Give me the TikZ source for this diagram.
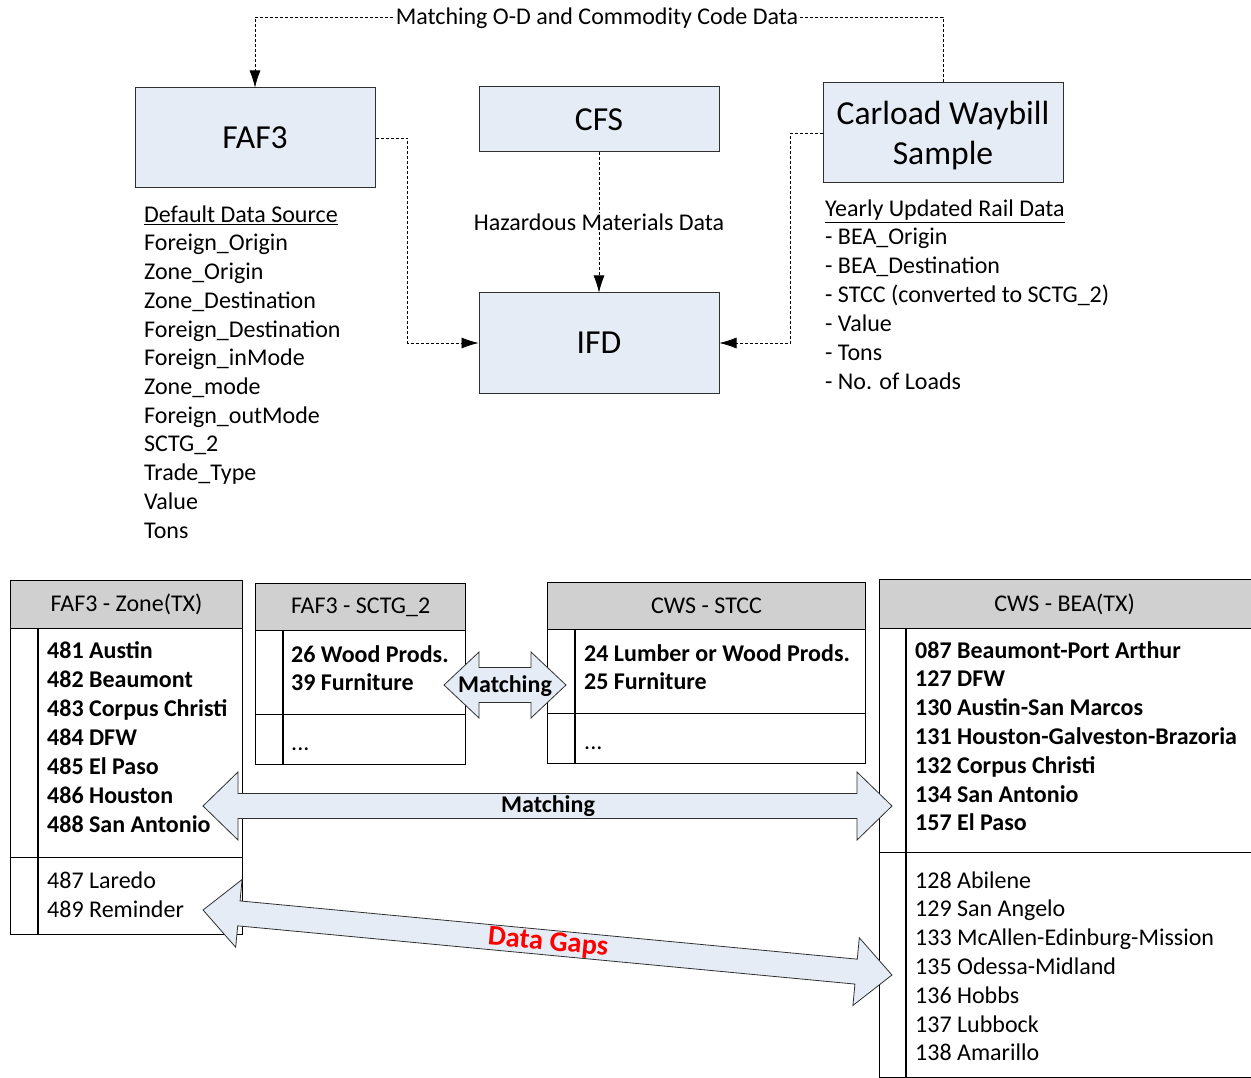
\documentclass[tikz,border=0pt]{standalone}
\usepackage{fontspec}
\setmainfont{Carlito}
\usetikzlibrary{arrows.meta}
\definecolor{boxblue}{HTML}{E6ECF6}
\definecolor{hdrgray}{HTML}{D0D0D0}
\definecolor{gapred}{HTML}{FF0000}
\definecolor{edge}{HTML}{303030}
\newcommand\txs{\fontsize{24pt}{28.7pt}\selectfont}
\newcommand\txl{\fontsize{33.6pt}{40pt}\selectfont}
\newcommand\blockdbl[7]{% cx, cy, angle, halflength, headlen, headhalf, shafthalf
 \begin{scope}[shift={(#1,#2)},rotate=#3]
 \draw[arrowbox] (-#4,0) -- ({-#4+#5},#6) -- ({-#4+#5},#7) -- ({#4-#5},#7) -- ({#4-#5},#6) -- (#4,0) -- ({#4-#5},-#6) -- ({#4-#5},-#7) -- ({-#4+#5},-#7) -- ({-#4+#5},-#6) -- cycle;
 \end{scope}}
\tikzset{
  bluebox/.style={draw=edge, line width=1pt, fill=boxblue, inner sep=0pt, align=center, font=\txl},
  dashline/.style={draw=black, line width=0.7pt, dash pattern=on 3pt off 2pt},
  tip/.style={-{Latex[length=17pt,width=11pt]}},
  lbl/.style={fill=white, inner sep=1pt, font=\txs},
  listtxt/.style={anchor=base west, inner sep=0pt, font=\txs},
  hdr/.style={draw=black, line width=1.2pt, fill=hdrgray, anchor=north west, inner sep=0pt, font=\txs},
  cell/.style={draw=black, line width=1.2pt, anchor=north west, inner sep=0pt},
  arrowbox/.style={draw=edge, line width=0.8pt, fill=boxblue, line join=miter},
}
\begin{document}
\begin{tikzpicture}[x=1pt,y=-1pt]
\useasboundingbox[fill=white] (0,0) rectangle (1251,1078);

% ---------- top boxes ----------
\node[bluebox, minimum width=240, minimum height=100] (faf) at (255,138) {FAF3};
\node[bluebox, minimum width=240, minimum height=65] (cfs) at (599,119.5) {CFS};
\node[bluebox, minimum width=240, minimum height=100] (cws) at (943,133) {};
\node[inner sep=0pt, align=center, font=\txl] (cwst) at (943,136) {Carload Waybill\\Sample};
\node[bluebox, minimum width=240, minimum height=100] (ifd) at (599,343) {IFD};

% ---------- dashed connectors ----------
\draw[dashline, tip] (cws.north) -- ++(0,-65) -| (faf.north);
\node[lbl] (odlbl) at (597,18) {Matching O-D and Commodity Code Data};
\draw[dashline, tip] (faf.east) -- ++(32,0) |- (ifd.west);
\draw[dashline, tip] (cws.west) -- ++(-32,0) |- (ifd.east);
\draw[dashline, tip] (cfs.south) -- (ifd.north);
\node[lbl] (hzlbl) at (599,222) {Hazardous Materials Data};

% ---------- left list ----------
\node[listtxt] (dds) at (144,223) {\underline{Default Data Source}};
\foreach \t [count=\i from 0] in {Foreign\_Origin, Zone\_Origin, Zone\_Destination, Foreign\_Destination, Foreign\_inMode, Zone\_mode, Foreign\_outMode, SCTG\_2, Trade\_Type, Value, Tons}
  \node[listtxt] (dl\i) at (144,{251+28.7*\i}) {\t};

% ---------- right list ----------
\node[listtxt] (yur) at (825,217) {\underline{Yearly Updated Rail Data}};
\foreach \t [count=\i from 0] in {- BEA\_Origin, - BEA\_Destination, - STCC (converted to SCTG\_2), - Value, - Tons, - No. of Loads}
  \node[listtxt] (rl\i) at (825,{245+28.8*\i}) {\t};

% ---------- table 1: FAF3 - Zone(TX) ----------
\node[hdr, minimum width=232, minimum height=48] (t1h) at (10,580) {FAF3 - Zone(TX)};
\node[cell, minimum width=232, minimum height=229] (t1a) at (10,628) {};
\node[cell, minimum width=232, minimum height=77] (t1b) at (10,857) {};
\draw[line width=1.2pt] (38,628) -- (38,934);
\foreach \t [count=\i from 0] in {481 Austin, 482 Beaumont, 483 Corpus Christi, 484 DFW, 485 El Paso, 486 Houston, 488 San Antonio}
  \node[listtxt, font=\txs\bfseries] (t1r\i) at (47,{658+29*\i}) {\t};
\node[listtxt] (t1s0) at (47,888) {487 Laredo};
\node[listtxt] (t1s1) at (47,917) {489 Reminder};

% ---------- table 2: FAF3 - SCTG_2 ----------
\node[hdr, minimum width=210, minimum height=47] (t2h) at (255,583) {FAF3 - SCTG\_2};
\node[cell, minimum width=210, minimum height=84] (t2a) at (255,630) {};
\node[cell, minimum width=210, minimum height=50] (t2b) at (255,714) {};
\draw[line width=1.2pt] (283,630) -- (283,764);
\node[listtxt, font=\txs\bfseries] (t2r0) at (291,662) {26 Wood Prods.};
\node[listtxt, font=\txs\bfseries] (t2r1) at (291,690) {39 Furniture};
\node[listtxt] (t2d) at (291,750) {...};

% ---------- table 3: CWS - STCC ----------
\node[hdr, minimum width=318, minimum height=47] (t3h) at (547,582) {CWS - STCC};
\node[cell, minimum width=318, minimum height=84] (t3a) at (547,629) {};
\node[cell, minimum width=318, minimum height=50] (t3b) at (547,713) {};
\draw[line width=1.2pt] (575,629) -- (575,763);
\node[listtxt, font=\txs\bfseries] (t3r0) at (584,661) {24 Lumber or Wood Prods.};
\node[listtxt, font=\txs\bfseries] (t3r1) at (584,689) {25 Furniture};
\node[listtxt] (t3d) at (584,749) {...};

% ---------- table 4: CWS - BEA(TX) ----------
\node[hdr, minimum width=374, minimum height=49] (t4h) at (879,579) {\hspace*{-2pt}CWS - BEA(TX)\hspace*{2pt}};
\node[cell, minimum width=374, minimum height=224] (t4a) at (879,628) {};
\node[cell, minimum width=374, minimum height=225] (t4b) at (879,852) {};
\draw[line width=1.2pt] (906,628) -- (906,1077);
\foreach \t [count=\i from 0] in {087 Beaumont-Port Arthur, 127 DFW, 130 Austin-San Marcos, 131 Houston-Galveston-Brazoria, 132 Corpus Christi, 134 San Antonio, 157 El Paso}
  \node[listtxt, font=\txs\bfseries] (t4r\i) at (915,{658+28.83*\i}) {\t};
\foreach \t [count=\i from 0] in {128 Abilene, 129 San Angelo, 133 McAllen-Edinburg-Mission, 135 Odessa-Midland, 136 Hobbs, 137 Lubbock, 138 Amarillo}
  \node[listtxt] (t4s\i) at (915,{888+28.83*\i}) {\t};

% ---------- block arrows ----------
\blockdbl{505}{685}{0}{61}{35}{33}{17.5}
\node[inner sep=0pt, font=\txs\bfseries] (m1) at (505,686) {Matching};
\blockdbl{547.5}{806}{0}{344.5}{35}{34}{12.5}
\node[inner sep=0pt, font=\txs\bfseries] (m2) at (548,806) {Matching};
\blockdbl{547.5}{942.5}{-5.39}{346}{36}{34}{12.5}
\node[inner sep=0pt, rotate=-5.39, text=gapred, font=\fontsize{28.5pt}{32pt}\selectfont\bfseries] (dg) at (548,943) {Data Gaps};
\end{tikzpicture}
\end{document}
